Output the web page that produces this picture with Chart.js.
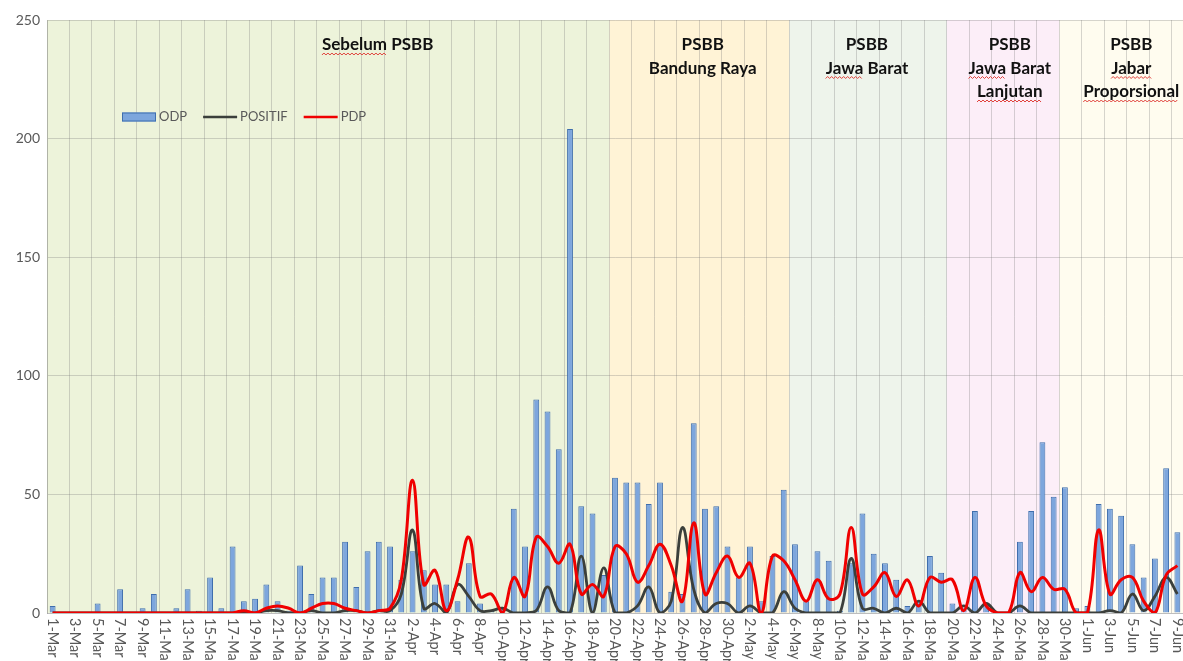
<!DOCTYPE html>
<html>
<head>
<meta charset="utf-8">
<script src="https://cdn.jsdelivr.net/npm/chart.js@4.4.0/dist/chart.umd.min.js"></script>
<style>
    html, body { margin: 0; padding: 0; background: #fff; }
    #wadah { width: 1183px; height: 661px; position: relative; }
</style>
</head>
<body>
<div id="wadah"><canvas id="grafik"></canvas></div>
<script>
var tanggal = [
    "1-Mar", "2-Mar", "3-Mar", "4-Mar", "5-Mar", "6-Mar", "7-Mar", "8-Mar", "9-Mar", "10-Mar",
    "11-Mar", "12-Mar", "13-Mar", "14-Mar", "15-Mar", "16-Mar", "17-Mar", "18-Mar", "19-Mar", "20-Mar",
    "21-Mar", "22-Mar", "23-Mar", "24-Mar", "25-Mar", "26-Mar", "27-Mar", "28-Mar", "29-Mar", "30-Mar",
    "31-Mar", "1-Apr", "2-Apr", "3-Apr", "4-Apr", "5-Apr", "6-Apr", "7-Apr", "8-Apr", "9-Apr",
    "10-Apr", "11-Apr", "12-Apr", "13-Apr", "14-Apr", "15-Apr", "16-Apr", "17-Apr", "18-Apr", "19-Apr",
    "20-Apr", "21-Apr", "22-Apr", "23-Apr", "24-Apr", "25-Apr", "26-Apr", "27-Apr", "28-Apr", "29-Apr",
    "30-Apr", "1-May", "2-May", "3-May", "4-May", "5-May", "6-May", "7-May", "8-May", "9-May",
    "10-May", "11-May", "12-May", "13-May", "14-May", "15-May", "16-May", "17-May", "18-May", "19-May",
    "20-May", "21-May", "22-May", "23-May", "24-May", "25-May", "26-May", "27-May", "28-May", "29-May",
    "30-May", "31-May", "1-Jun", "2-Jun", "3-Jun", "4-Jun", "5-Jun", "6-Jun", "7-Jun", "8-Jun",
    "9-Jun"
];

var odp = [
    3, 0, 0, 0, 4, 0, 10, 0, 2, 8,
    0, 2, 10, 1, 15, 2, 28, 5, 6, 12,
    5, 1, 20, 8, 15, 15, 30, 11, 26, 30,
    28, 14, 26, 18, 12, 12, 5, 21, 4, 1,
    2, 44, 28, 90, 85, 69, 204, 45, 42, 16,
    57, 55, 55, 46, 55, 9, 8, 80, 44, 45,
    28, 15, 28, 5, 24, 52, 29, 5, 26, 22,
    1, 21, 42, 25, 21, 14, 3, 5, 24, 17,
    4, 2, 43, 4, 0, 0, 30, 43, 72, 49,
    53, 2, 3, 46, 44, 41, 29, 15, 23, 61,
    34
];

var positif = [
    0, 0, 0, 0, 0, 0, 0, 0, 0, 0,
    0, 0, 0, 0, 0, 0, 0, 0, 0, 1,
    1, 0, 0, 1, 0, 0, 1, 1, 0, 1,
    1, 8, 35, 2, 4, 0, 12, 7, 1, 1,
    2, 0, 0, 1, 11, 1, 0, 24, 0, 19,
    0, 0, 3, 11, 0, 5, 36, 10, 0, 4,
    4, 0, 3, 0, 0, 9, 2, 0, 0, 0,
    0, 23, 2, 2, 0, 2, 0, 5, 0, 0,
    0, 3, 0, 4, 0, 0, 3, 0, 0, 0,
    0, 0, 0, 0, 1, 0, 8, 1, 7, 15,
    8
];

var pdp = [
    0, 0, 0, 0, 0, 0, 0, 0, 0, 0,
    0, 0, 0, 0, 0, 0, 0, 1, 0, 2,
    3, 2, 0, 2, 4, 4, 2, 1, 0, 1,
    2, 14, 56, 12, 18, 1, 14, 32, 7, 8,
    0, 15, 7, 32, 28, 21, 29, 8, 12, 7,
    28, 25, 13, 20, 29, 20, 5, 38, 8, 17,
    24, 15, 21, 0, 24, 22, 14, 5, 14, 6,
    8, 36, 8, 11, 17, 7, 14, 3, 15, 13,
    14, 1, 15, 3, 0, 0, 17, 9, 15, 10,
    10, 0, 0, 35, 8, 14, 15, 5, 0, 16,
    20
];

var sumbuY = [0, 50, 100, 150, 200, 250];

// tahapan PSBB (latar belakang)
var tahapMulai = ["1-Mar", "20-Apr", "6-May", "20-May", "30-May"];
var tahapJudul = [
    ["Sebelum PSBB"],
    ["PSBB", "Bandung Raya"],
    ["PSBB", "Jawa Barat"],
    ["PSBB", "Jawa Barat", "Lanjutan"],
    ["PSBB", "Jabar", "Proporsional"]
];
var tahapWarna = ["#EDF3DA", "#FFF3D6", "#EEF4EB", "#FCEEF8", "#FFFCEF"];
// kata yang diberi garis bergelombang merah (cek ejaan)
var tahapEjaan = [["Sebelum"], [], ["Jawa"], ["Jawa", "Lanjutan"], ["Jabar", "Proporsional"]];
var posisiJudul = [28.9, 57.8, 72.4, 85.1, 95.9];

var warnaBatang = "#7DA6DD";
var garisBatang = "#3F6EAD";
var warnaPositif = "#3B3F3B";
var warnaPdp = "#F00000";
var warnaTeks = "#595959";
var warnaGrid = "rgba(120,120,120,0.30)";

function garisGelombang(ctx, x1, x2, y) {
    ctx.save();
    ctx.strokeStyle = "#E0403A";
    ctx.lineWidth = 1;
    ctx.beginPath();
    let naik = true;
    ctx.moveTo(x1, y);
    for (let x = x1 + 2; x <= x2; x += 2) {
        ctx.lineTo(x, naik ? y - 2 : y);
        naik = !naik;
    }
    ctx.stroke();
    ctx.restore();
}

var pluginTahap = {
    id: "pluginTahap",
    beforeDraw: function (chart) {
        let ctx = chart.ctx;
        let area = chart.chartArea;
        let sx = chart.scales.x;
        let lebar = sx.getPixelForValue(1) - sx.getPixelForValue(0);
        ctx.save();
        for (let i = 0; i < tahapMulai.length; i++) {
            let kiri = sx.getPixelForValue(tanggal.indexOf(tahapMulai[i])) - lebar / 2;
            let kanan = area.right;
            if (i < tahapMulai.length - 1) {
                kanan = sx.getPixelForValue(tanggal.indexOf(tahapMulai[i + 1])) - lebar / 2;
            }
            ctx.fillStyle = tahapWarna[i];
            ctx.fillRect(kiri, area.top, kanan - kiri, area.bottom - area.top);
        }
        ctx.restore();
    },
    afterDraw: function (chart) {
        let ctx = chart.ctx;
        let area = chart.chartArea;
        let sx = chart.scales.x;

        // judul tahapan
        ctx.save();
        ctx.font = "bold 17px Lato";
        ctx.fillStyle = "#111";
        ctx.textBaseline = "middle";
        ctx.textAlign = "left";
        for (let i = 0; i < tahapJudul.length; i++) {
            let cx = sx.getPixelForValue(posisiJudul[i]);
            for (let j = 0; j < tahapJudul[i].length; j++) {
                let baris = tahapJudul[i][j];
                let w = ctx.measureText(baris).width;
                let x0 = cx - w / 2;
                let y = 45 + j * 23.5;
                ctx.fillText(baris, x0, y);
                tahapEjaan[i].forEach(function (kata) {
                    let k = baris.indexOf(kata);
                    if (k >= 0) {
                        let a = x0 + ctx.measureText(baris.substring(0, k)).width;
                        let b = a + ctx.measureText(kata).width;
                        garisGelombang(ctx, a, b, y + 10);
                    }
                });
            }
        }
        ctx.restore();

        // legenda
        ctx.save();
        ctx.font = "13px Lato";
        ctx.textBaseline = "middle";
        ctx.fillStyle = warnaTeks;
        let ly = 117;
        let lx = 122;
        chart.data.datasets.forEach(function (ds) {
            if (ds.type === "line") {
                ctx.strokeStyle = ds.borderColor;
                ctx.lineWidth = 2.5;
                ctx.beginPath();
                ctx.moveTo(lx, ly);
                ctx.lineTo(lx + 34, ly);
                ctx.stroke();
            } else {
                ctx.fillStyle = ds.backgroundColor;
                ctx.fillRect(lx, ly - 4.5, 34, 9);
                ctx.strokeStyle = ds.borderColor;
                ctx.lineWidth = 1;
                ctx.strokeRect(lx + 0.5, ly - 4, 33, 8);
            }
            ctx.fillStyle = warnaTeks;
            ctx.fillText(ds.label, lx + 37, ly);
            lx += 37 + ctx.measureText(ds.label).width + 16;
        });
        ctx.restore();

        // label tanggal (diputar searah jarum jam)
        ctx.save();
        ctx.font = "14.5px Lato";
        ctx.fillStyle = warnaTeks;
        ctx.textBaseline = "middle";
        ctx.textAlign = "left";
        for (let i = 0; i < tanggal.length; i += 2) {
            let x = sx.getPixelForValue(i);
            ctx.save();
            ctx.translate(x, area.bottom + 5);
            ctx.rotate(Math.PI / 2);
            ctx.fillText(tanggal[i], 0, 0);
            ctx.restore();
        }
        ctx.restore();
    }
};

var ctx = document.getElementById("grafik").getContext("2d");
var grafik = new Chart(ctx, {
    type: "bar",
    data: {
        labels: tanggal,
        datasets: [{
            type: "bar",
            label: "ODP",
            data: odp,
            backgroundColor: warnaBatang,
            borderColor: garisBatang,
            borderWidth: 1,
            barPercentage: 0.52,
            categoryPercentage: 1,
            order: 3
        }, {
            type: "line",
            label: "POSITIF",
            data: positif,
            borderColor: warnaPositif,
            borderWidth: 2.8,
            pointRadius: 0,
            tension: 0.4,
            fill: false,
            order: 2
        }, {
            type: "line",
            label: "PDP",
            data: pdp,
            borderColor: warnaPdp,
            borderWidth: 3,
            pointRadius: 0,
            tension: 0.4,
            fill: false,
            order: 1
        }]
    },
    options: {
        responsive: true,
        maintainAspectRatio: false,
        animation: false,
        layout: { padding: { top: 20, left: 0, right: 0, bottom: 0 } },
        plugins: {
            legend: { display: false },
            tooltip: { enabled: false }
        },
        scales: {
            x: {
                offset: true,
                grid: {
                    offset: true,
                    drawTicks: false,
                    color: function (c) { return c.index % 2 === 0 ? warnaGrid : "rgba(0,0,0,0)"; }
                },
                border: { color: "#BDBDBD" },
                ticks: { display: false, autoSkip: false },
                afterFit: function (scale) { scale.height = 48; }
            },
            y: {
                min: sumbuY[0],
                max: sumbuY[sumbuY.length - 1],
                grid: { color: warnaGrid, drawTicks: false },
                border: { color: warnaGrid },
                ticks: {
                    stepSize: 50,
                    padding: 7,
                    color: warnaTeks,
                    font: { family: "Lato", size: 14 }
                },
                afterFit: function (scale) { scale.width = 47; }
            }
        }
    },
    plugins: [pluginTahap]
});
</script>
</body>
</html>
